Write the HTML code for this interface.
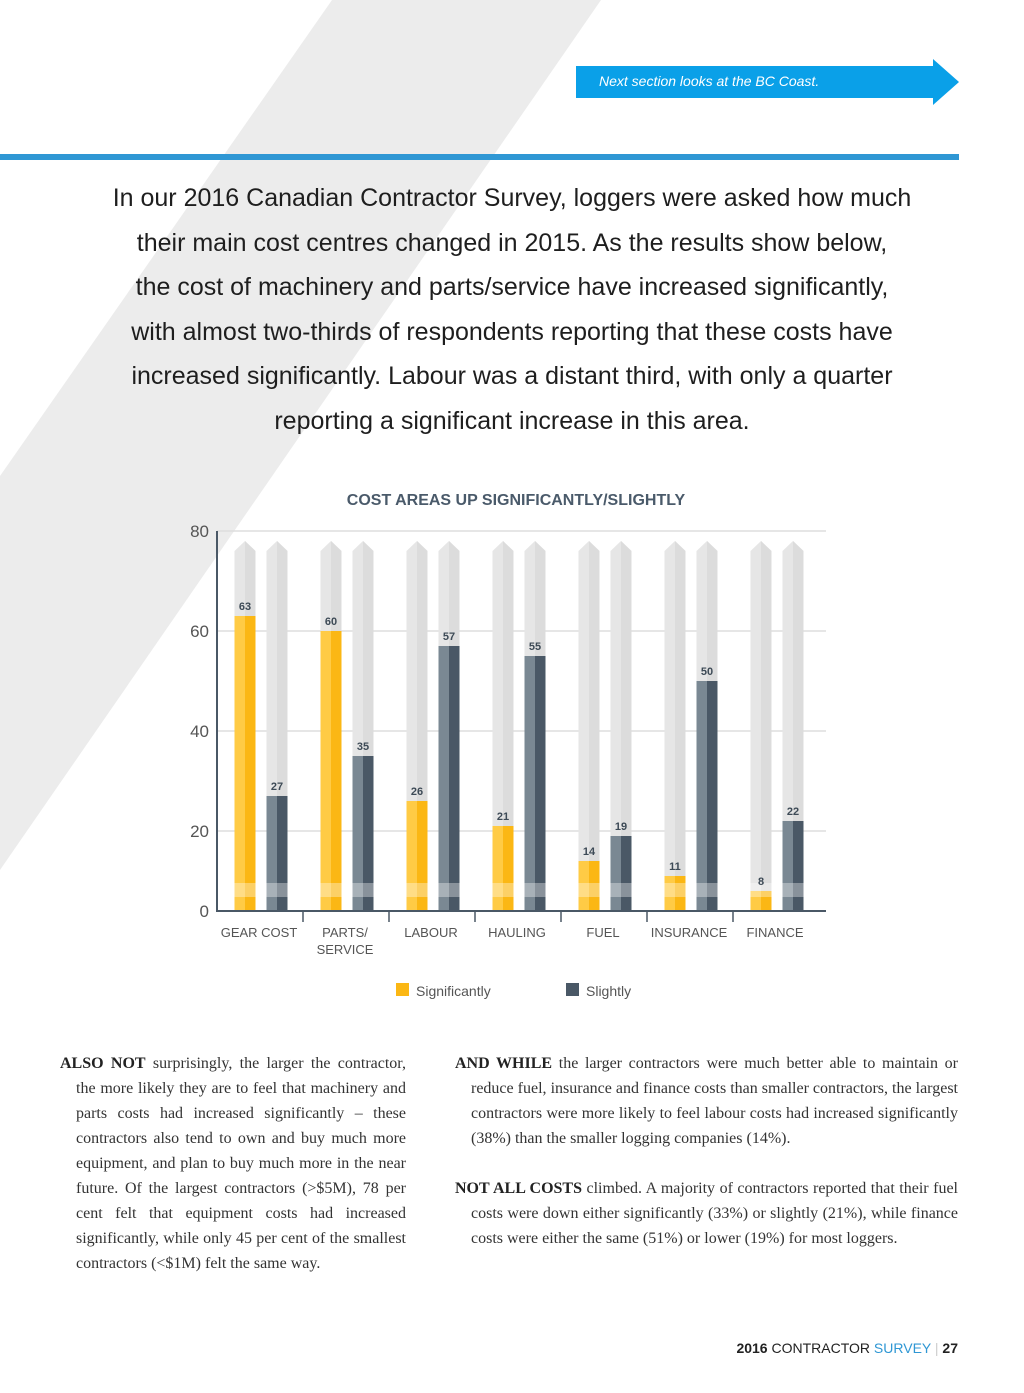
<!DOCTYPE html>
<html><head><meta charset="utf-8"><style>
body{margin:0;width:1024px;height:1393px;position:relative;background:#fff;overflow:hidden;font-family:"Liberation Sans",sans-serif}
.abs{position:absolute}
.head{left:60px;width:904px;top:176px;text-align:center;font-size:25px;line-height:44.6px;color:#1e1e1e}
.col{font-family:"Liberation Serif",serif;font-size:16px;line-height:25px;color:#333;text-align:justify}
.col p{margin:0 0 25px 0;padding-left:16px;text-indent:-16px}
.col b{font-weight:bold;color:#222}
</style></head><body>
<svg class="abs" style="left:0;top:0" width="1024" height="1393">
<polygon points="332,0 601,0 0,870 0,476" fill="#ececec"/>
</svg>
<div class="abs" style="left:576px;top:66px;width:358px;height:32px;background:#0aa0e8"></div>
<svg class="abs" style="left:933px;top:59px" width="26" height="46"><polygon points="0,0 26,23 0,46" fill="#0aa0e8"/></svg>
<div class="abs" style="left:599px;top:73px;font-size:14px;font-style:italic;color:#fff">Next section looks at the BC Coast.</div>
<div class="abs" style="left:0;top:154px;width:959px;height:6px;background:#2f97d4"></div>
<div class="abs head">In our 2016 Canadian Contractor Survey, loggers were asked how much<br>their main cost centres changed in 2015. As the results show below,<br>the cost of machinery and parts/service have increased significantly,<br>with almost two-thirds of respondents reporting that these costs have<br>increased significantly. Labour was a distant third, with only a quarter<br>reporting a significant increase in this area.</div>

<svg id="chart" class="abs" style="left:0;top:470px" width="1024" height="560"></svg>

<div class="abs col" style="left:60px;top:1051px;width:346px"><p><b>ALSO NOT</b> surprisingly, the larger the contractor, the more likely they are to feel that machinery and parts costs had increased significantly – these contractors also tend to own and buy much more equipment, and plan to buy much more in the near future. Of the largest contractors (&gt;$5M), 78 per cent felt that equipment costs had increased significantly, while only 45 per cent of the smallest contractors (&lt;$1M) felt the same way.</p></div>
<div class="abs col" style="left:455px;top:1051px;width:503px"><p><b>AND WHILE</b> the larger contractors were much better able to maintain or reduce fuel, insurance and finance costs than smaller contractors, the largest contractors were more likely to feel labour costs had increased significantly (38%) than the smaller logging companies (14%).</p><p><b>NOT ALL COSTS</b> climbed. A majority of contractors reported that their fuel costs were down either significantly (33%) or slightly (21%), while finance costs were either the same (51%) or lower (19%) for most loggers.</p></div>
<div class="abs" style="right:66px;top:1340px;font-size:14px;color:#222"><b>2016</b> CONTRACTOR <span style="color:#2f97d4">SURVEY</span> <span style="color:#ccc">|</span> <b>27</b></div>

<script>
const categories=["GEAR COST","PARTS/|SERVICE","LABOUR","HAULING","FUEL","INSURANCE","FINANCE"];
const significantly=[63,60,26,21,14,11,8];
const slightly=[27,35,57,55,19,50,22];
const yTicks=[0,20,40,60,80];
const svg=document.getElementById('chart');
const NS='http://www.w3.org/2000/svg';
const x0=217,gw=86,bot=441,xr=826;
const y=v=>461-5*v;
const ty=v=>v===0?bot:y(v);
function el(t,a,p){const e=document.createElementNS(NS,t);for(const k in a)e.setAttribute(k,a[k]);(p||svg).appendChild(e);return e;}
const title=el('text',{x:516,y:35,'text-anchor':'middle','font-size':16,'font-weight':'bold',fill:'#4a5a6a'});
title.textContent='COST AREAS UP SIGNIFICANTLY/SLIGHTLY';


yTicks.forEach(t=>{
 if(t>0){const g=el('line',{x1:x0,x2:xr,y1:ty(t),y2:ty(t),stroke:'#dddddd','stroke-width':1.5});
 
 }
 const l=el('text',{x:209,y:ty(t)+6,'text-anchor':'end','font-size':17,fill:'#555'});l.textContent=t;
 
 
});
function bar(cx,v,c1,c2,name){
 const w=21,l=cx-w/2,tp=71;
 el('polygon',{points:`${l},${tp+10} ${cx},${tp} ${l+w},${tp+10} ${l+w},${bot} ${l},${bot}`,fill:'#e6e6e6'});
 el('polygon',{points:`${cx},${tp} ${l+w},${tp+10} ${l+w},${bot} ${cx},${bot}`,fill:'#dcdcdc'});
 const r=el('rect',{x:l,y:y(v),width:w,height:bot-y(v),fill:c1});
 
 
 el('rect',{x:cx,y:y(v),width:w/2,height:bot-y(v),fill:c2});
 el('rect',{x:l,y:bot-28,width:w,height:14,fill:'#fff',opacity:0.35});
 const t=el('text',{x:cx,y:y(v)-6,'text-anchor':'middle','font-size':11,'font-weight':'bold',fill:'#3d4a56'});t.textContent=v;
 
 
}
categories.forEach((c,i)=>{
 const cx=x0+gw*(i+0.5)+1;
 bar(cx-16,significantly[i],'#ffcb45','#fbb714','bar-significantly');
 bar(cx+16,slightly[i],'#7a8893','#4a5866','bar-slightly');
 c.split('|').forEach((s,j)=>{const t=el('text',{x:cx-2,y:467+j*17,'text-anchor':'middle','font-size':13,fill:'#555'});t.textContent=s;
 
 });
 if(i>0){el('line',{x1:x0+gw*i,x2:x0+gw*i,y1:bot,y2:bot+11,stroke:'#4a5866','stroke-width':1.5});}
});
el('line',{x1:x0,x2:x0,y1:61,y2:bot+1,stroke:'#4a5866','stroke-width':2});
el('line',{x1:x0,x2:xr,y1:bot,y2:bot,stroke:'#4a5866','stroke-width':2});
const lg=[['#fbb714','Significantly',396],['#4a5866','Slightly',566]];
lg.forEach(a=>{const r=el('rect',{x:a[2],y:513,width:13,height:13,fill:a[0]});
 
 
 const t=el('text',{x:a[2]+20,y:526,'font-size':14,fill:'#555'});t.textContent=a[1];
 
 });
</script>
</body></html>
